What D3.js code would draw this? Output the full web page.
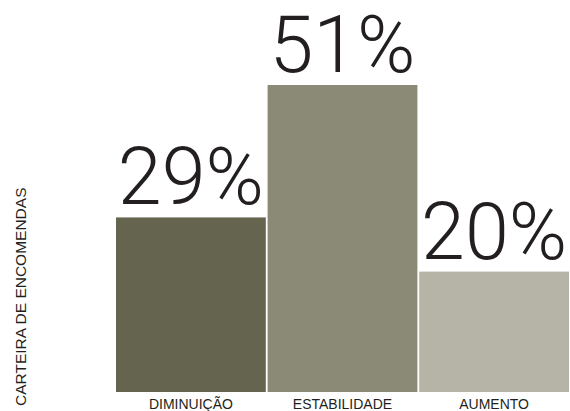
<!DOCTYPE html>
<html><head><meta charset="utf-8">
<script src="https://cdn.jsdelivr.net/npm/d3@7"></script>
<style>body{margin:0;background:#fff}svg{display:block}</style>
</head><body>
<svg id="c" width="570" height="411"></svg>
<script>
const categories = ["DIMINUIÇÃO", "ESTABILIDADE", "AUMENTO"];
const values = [29, 51, 20];
const valueLabels = ["29%", "51%", "20%"];
const colors = ["#65644e", "#8a8a76", "#b5b4a7"];
const axisTitle = "CARTEIRA DE ENCOMENDAS";

const svg = d3.select("#c");
const x = d3.scaleBand().domain(categories).range([116, 569]).paddingInner(0.012).paddingOuter(0);
const y = d3.scaleLinear().domain([0, 51]).range([392, 85]);

svg.selectAll("rect.bar").data(values).join("rect")
  .attr("class", "bar")
  .attr("x", (d, i) => x(categories[i]))
  .attr("width", x.bandwidth())
  .attr("y", d => y(d))
  .attr("height", d => y(0) - y(d))
  .attr("fill", (d, i) => colors[i]);

svg.selectAll("text.val").data(values).join("text")
  .attr("class", "val")
  .attr("x", (d, i) => x(categories[i]) + x.bandwidth() / 2)
  .attr("y", d => y(d) - 13)
  .attr("text-anchor", "middle")
  .attr("font-family", "Roboto, Liberation Sans, sans-serif")
  .attr("font-weight", 300)
  .attr("font-size", 79)
  .attr("fill", "#231f20")
  .text((d, i) => valueLabels[i]);

svg.selectAll("text.cat").data(categories).join("text")
  .attr("class", "cat")
  .attr("x", d => x(d) + x.bandwidth() / 2)
  .attr("y", 409)
  .attr("text-anchor", "middle")
  .attr("font-family", "Liberation Sans, Arial, sans-serif")
  .attr("font-size", 14)
  .attr("fill", "#231f20")
  .text(d => d);

svg.append("text")
  .attr("transform", "translate(26,406) rotate(-90)")
  .attr("text-anchor", "start")
  .attr("font-family", "Liberation Sans, Arial, sans-serif")
  .attr("font-size", 15.5)
  .attr("fill", "#231f20")
  .text(axisTitle);
</script>
</body></html>
